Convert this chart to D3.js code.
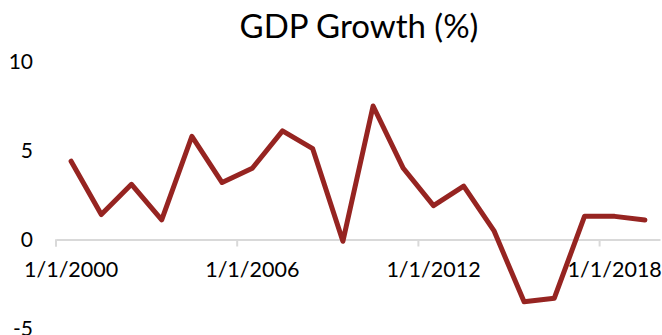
<!DOCTYPE html>
<html>
<head>
<meta charset="utf-8">
<script src="https://cdn.jsdelivr.net/npm/d3@7"></script>
<style>
  body { margin: 0; background: #fff; }
  text { font-family: Lato, "Open Sans", sans-serif; fill: #000; }
</style>
</head>
<body>
<svg id="chart"></svg>
<script>
// GDP growth by year (%)
const years = [2000, 2001, 2002, 2003, 2004, 2005, 2006, 2007, 2008, 2009,
               2010, 2011, 2012, 2013, 2014, 2015, 2016, 2017, 2018, 2019];
const growth = [4.4, 1.4, 3.1, 1.1, 5.8, 3.2, 4.0, 6.1, 5.1, -0.1,
                7.5, 4.0, 1.9, 3.0, 0.5, -3.5, -3.3, 1.3, 1.3, 1.1];
const labelYears = [2000, 2006, 2012, 2018];
const yTicks = [-5, 0, 5, 10];

const width = 662;
const height = 335;

const svg = d3.select('#chart')
  .attr('width', width)
  .attr('height', height);

const x = d3.scaleBand()
  .domain(years)
  .range([56, 660]);

const y = d3.scaleLinear()
  .domain([-5, 10])
  .range([328.5, 61.5]);

const bw = x.bandwidth();

// title
svg.append('text')
  .attr('x', 359)
  .attr('y', 38)
  .attr('text-anchor', 'middle')
  .style('font-size', '33px')
  .text('GDP Growth (%)');

// y labels (no axis line)
svg.append('g')
  .selectAll('text')
  .data(yTicks)
  .enter().append('text')
  .attr('x', 33)
  .attr('y', d => y(d))
  .attr('dy', '0.35em')
  .attr('text-anchor', 'end')
  .style('font-size', '21px')
  .text(d => d);

// x axis sits on zero
const xAxis = svg.append('g')
  .attr('transform', `translate(0,${y(0)})`)
  .call(d3.axisBottom(x)
    .tickValues(labelYears)
    .tickSize(7)
    .tickSizeOuter(0)
    .tickPadding(15)
    .tickFormat(d => '1/1/' + d));

xAxis.select('.domain')
  .attr('stroke', '#d9d9d9')
  .attr('stroke-width', 2);

xAxis.selectAll('.tick line')
  .attr('stroke', '#d9d9d9')
  .attr('stroke-width', 2)
  .attr('x1', -bw / 2)
  .attr('x2', -bw / 2);

xAxis.selectAll('.tick text')
  .style('font-size', '21.5px')
  .style('font-family', 'Lato, "Open Sans", sans-serif')
  .attr('fill', '#000');

// start tick at first bin edge
xAxis.append('line')
  .attr('x1', 56).attr('x2', 56)
  .attr('y1', 0).attr('y2', 7)
  .attr('stroke', '#d9d9d9')
  .attr('stroke-width', 2);

const line = d3.line()
  .x((d, i) => x(years[i]) + bw / 2)
  .y(d => y(d));

svg.append('path')
  .datum(growth)
  .attr('d', line)
  .attr('fill', 'none')
  .attr('stroke', '#962421')
  .attr('stroke-width', 5)
  .attr('stroke-linejoin', 'round')
  .attr('stroke-linecap', 'round');
</script>
</body>
</html>
